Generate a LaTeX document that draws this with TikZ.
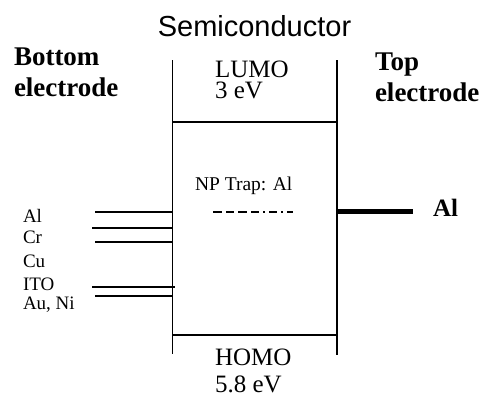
\documentclass[tikz,border=0pt]{standalone}
\usepackage{fontspec}
\setmainfont{Liberation Serif}
\newfontfamily\headsans{Liberation Sans}
\begin{document}
\begin{tikzpicture}[x=1pt,y=-1pt,
  txt/.style={inner sep=0pt,outer sep=0pt},
  thin line/.style={line width=1.6pt},
  elec/.style={line width=1.6pt},
  heavy/.style={line width=5pt},
  trapdash/.style={line width=1.6pt,dash pattern=on 9pt off 4pt on 8pt off 4pt on 9pt off 4pt on 8pt off 4pt on 2pt off 4pt on 8pt off 4pt on 2pt off 4pt}]
\useasboundingbox (0,0) rectangle (486,397);
% frame coordinates
\coordinate (LT) at (172.5,60);
\coordinate (LB) at (172.5,354);
\coordinate (RT) at (337,60);
\coordinate (RB) at (337,355);
\coordinate (LUl) at (172.5,122);
\coordinate (LUr) at (337,122);
\coordinate (HOl) at (172.5,335);
\coordinate (HOr) at (337,335);
\draw[thin line] (LT) -- (LB);
\draw[thin line] (RT) -- (RB);
\draw[thin line] (LUl) -- (LUr);
\draw[thin line] (HOl) -- (HOr);
% titles
\node[txt,anchor=base] (semi) at (254.5,36) {\headsans\fontsize{29}{29}\selectfont Semiconductor};
\node[txt,anchor=base west] (bot1) at (14,65) {\fontsize{27}{27}\selectfont\bfseries Bottom};
\node[txt,anchor=base west] (bot2) at (14,96) {\fontsize{27}{27}\selectfont\bfseries electrode};
\node[txt,anchor=base west] (top1) at (375,70) {\fontsize{27}{27}\selectfont\bfseries Top};
\node[txt,anchor=base west] (top2) at (375,101) {\fontsize{27}{27}\selectfont\bfseries electrode};
% LUMO / HOMO
\node[txt,anchor=base west,text depth=0pt] (lumo) at (215,77) {\fontsize{25}{25}\selectfont LUMO};
\node[txt,anchor=base west,text height=16pt] (lumoev) at (215,98) {\fontsize{25}{25}\selectfont 3 eV};
\node[txt,anchor=base west,text depth=0pt] (homo) at (215,365) {\fontsize{25}{25}\selectfont HOMO};
\node[txt,anchor=base west,text depth=0pt,text height=16pt] (homoev) at (215,392) {\fontsize{25}{25}\selectfont 5.8 eV};
% trap
\node[txt,anchor=base west] (trap) at (195,190) {\fontsize{19.5}{19.5}\selectfont NP Trap: Al};
\coordinate (trapA) at (213,212);
\coordinate (trapB) at (293,212);
\draw[trapdash] (trapA) -- (trapB);
% bottom electrode labels
\node[txt,anchor=base west] (lAl) at (23,222) {\fontsize{19}{19}\selectfont Al};
\node[txt,anchor=base west] (lCr) at (23,243) {\fontsize{19}{19}\selectfont Cr};
\node[txt,anchor=base west] (lCu) at (23,267) {\fontsize{19}{19}\selectfont Cu};
\node[txt,anchor=base west] (lITO) at (23,290) {\fontsize{19}{19}\selectfont ITO};
\node[txt,anchor=base west] (lAu) at (23,309) {\fontsize{19}{19}\selectfont Au, Ni};
% bottom electrode lines
\coordinate (e1) at (95,212);   \coordinate (f1) at (172.5,212);
\coordinate (e2) at (92,228);   \coordinate (f2) at (172.5,228);
\coordinate (e3) at (95,242);   \coordinate (f3) at (172.5,242);
\coordinate (e4) at (92,287);   \coordinate (f4) at (175,287);
\coordinate (e5) at (95,296);   \coordinate (f5) at (172.5,296);
\draw[elec] (e1) -- (f1);
\draw[elec] (e2) -- (f2);
\draw[elec] (e3) -- (f3);
\draw[elec] (e4) -- (f4);
\draw[elec] (e5) -- (f5);
% top electrode
\node[txt,anchor=base west] (rAl) at (433,216) {\fontsize{25}{25}\selectfont\bfseries Al};
\coordinate (t1) at (336,211);
\coordinate (t2) at (413,211);
\draw[heavy] (t1) -- (t2);
\end{tikzpicture}
\end{document}
